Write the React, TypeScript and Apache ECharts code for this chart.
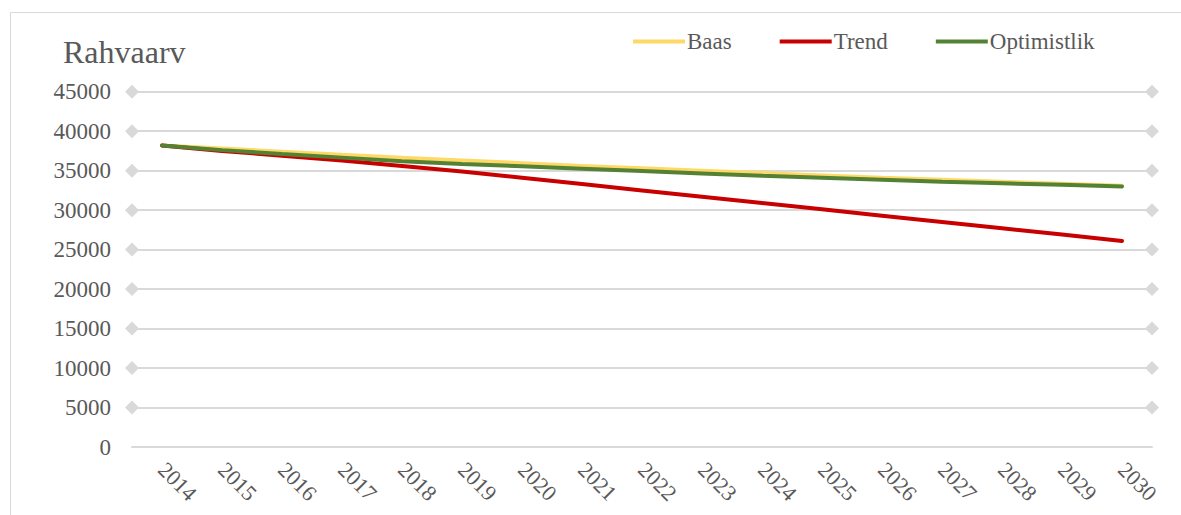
import React, { useEffect, useRef } from "react";
import * as echarts from "echarts";

const years = ["2014","2015","2016","2017","2018","2019","2020","2021","2022","2023","2024","2025","2026","2027","2028","2029","2030"];
const baas = [38200, 37800, 37400, 37000, 36650, 36300, 35950, 35600, 35300, 35000, 34700, 34400, 34100, 33850, 33600, 33350, 33100];
const trend = [38200, 37500, 36900, 36300, 35600, 34900, 34100, 33300, 32500, 31700, 30900, 30100, 29300, 28500, 27700, 26900, 26100];
const optimistlik = [38200, 37600, 37100, 36650, 36200, 35850, 35550, 35250, 34950, 34650, 34350, 34100, 33850, 33600, 33400, 33200, 33000];
const gridValues = [5000, 10000, 15000, 20000, 25000, 30000, 35000, 40000, 45000];

const FONT = "'Liberation Serif', 'Times New Roman', serif";
const TEXT = "#595959";

export default function App() {
  const ref = useRef<HTMLDivElement>(null);
  useEffect(() => {
    if (!ref.current) return;
    const chart = echarts.init(ref.current, undefined, { renderer: "svg" });
    chart.setOption({
      animation: false,
      backgroundColor: "#ffffff",
      title: {
        text: "Rahvaarv",
        left: 58,
        top: 31,
        textStyle: { fontFamily: FONT, fontSize: 32, fontWeight: "normal", color: TEXT },
      },
      legend: {
        left: 628,
        top: 25,
        itemWidth: 52,
        itemHeight: 4,
        itemGap: 48,
        icon: "rect",
        textStyle: { fontFamily: FONT, fontSize: 23, color: TEXT, padding: [0, 0, 0, -3] },
        data: ["Baas", "Trend", "Optimistlik"],
      },
      graphic: [
        {
          type: "rect",
          shape: { x: 10.5, y: 12.5, width: 1200, height: 600 },
          style: { fill: "none", stroke: "#d9d9d9", lineWidth: 1 },
          silent: true,
          z: -10,
        },
      ],
      grid: { left: 132, right: 29, top: 91.7, bottom: 68, containLabel: false },
      xAxis: {
        type: "category",
        data: years,
        boundaryGap: true,
        axisLine: { show: true, lineStyle: { color: "#d9d9d9", width: 2 } },
        axisTick: { show: false },
        axisLabel: { rotate: -45, margin: 19, fontFamily: FONT, fontSize: 22, color: TEXT },
      },
      yAxis: {
        type: "value",
        min: 0,
        max: 45000,
        interval: 5000,
        axisLine: { show: false },
        axisTick: { show: false },
        splitLine: { show: false },
        axisLabel: {
          margin: 21,
          fontFamily: FONT,
          fontSize: 23,
          color: TEXT,
          formatter: (v: number) => String(v),
        },
      },
      series: [
        {
          name: "Baas",
          type: "line",
          data: baas,
          symbol: "none",
          lineStyle: { color: "#FFD966", width: 4, cap: "round" },
          itemStyle: { color: "#FFD966" },
          markLine: {
            silent: true,
            symbol: ["diamond", "diamond"],
            symbolSize: 14,
            label: { show: false },
            lineStyle: { color: "#d9d9d9", width: 2, type: "solid" },
            data: gridValues.map((v) => ({ yAxis: v })),
            z: 0,
          },
        },
        {
          name: "Trend",
          type: "line",
          data: trend,
          symbol: "none",
          lineStyle: { color: "#C80000", width: 4, cap: "round" },
          itemStyle: { color: "#C80000" },
        },
        {
          name: "Optimistlik",
          type: "line",
          data: optimistlik,
          symbol: "none",
          lineStyle: { color: "#548235", width: 4, cap: "round" },
          itemStyle: { color: "#548235" },
        },
      ],
    });
    return () => chart.dispose();
  }, []);
  return <div ref={ref} style={{ position: "fixed", left: 0, top: 0, width: 1181, height: 515 }} />;
}
